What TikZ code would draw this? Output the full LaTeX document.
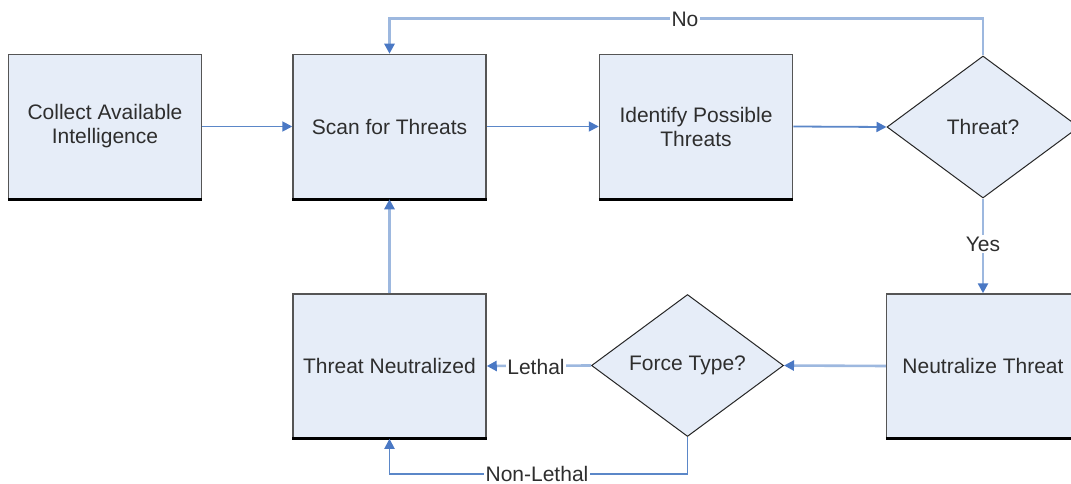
\documentclass[tikz,border=0pt]{standalone}
\usepackage{fontspec}
\setmainfont{Liberation Sans}
\usetikzlibrary{shapes.geometric,arrows.meta}
\definecolor{boxfill}{HTML}{E6EDF8}
\definecolor{boxedge}{HTML}{555555}
\definecolor{lineA}{HTML}{5B87C8}
\definecolor{lineB}{HTML}{9DB8DF}
\definecolor{tipc}{HTML}{4A78C4}
\definecolor{txt}{HTML}{2E2E2E}
\begin{document}
\begin{tikzpicture}[x=1pt,y=-1pt,
  every node/.style={font=\fontsize{21}{24}\selectfont, text=txt},
  box/.style={draw=boxedge, line width=1.5pt, fill=boxfill, rectangle, minimum width=193pt, minimum height=144pt, inner sep=0pt, align=center},
  dec/.style={draw=black!85, line width=1pt, fill=boxfill, diamond, minimum width=192pt, minimum height=142pt, inner sep=0pt},
  arr/.style={-{Triangle[length=10pt,width=10pt,color=tipc]}},
  darkline/.style={arr, draw=lineA, line width=1.8pt},
  lightline/.style={arr, draw=lineB, line width=2.6pt},
  lbl/.style={fill=white, inner sep=1.5pt},
  bottomedge/.style={draw=black, line width=3pt}
]
\clip (0,0) rectangle (1071,484);
\fill[white] (0,0) rectangle (1071,484);

\node[box] (col) at (105,126.5) {Collect Available\\Intelligence};
\node[box] (scan) at (389.5,126.5) {Scan for Threats};
\node[box] (ident) at (696,126.5) {Identify Possible\\Threats};
\node[dec] (thr) at (983,127) {Threat?};
\node[box] (neut) at (983,366) {Neutralize Threat};
\node[dec] (force) at (687.5,365.5) {Force Type?};
\node[box] (tn) at (389.5,366) {Threat Neutralized};

\foreach \n in {col,scan,ident,neut,tn}
  \draw[bottomedge] (\n.south west) -- (\n.south east);

\draw[darkline] (col.east) -- (scan.west);
\draw[darkline] (scan.east) -- (ident.west);
\draw[darkline] (ident.east) -- (thr.west);
\draw[lightline] (thr.north) -- ++(0,-37) -| (scan.north);
\draw[lightline] (thr.south) -- (neut.north);
\draw[lightline] (neut.west) -- (force.east);
\draw[lightline] (force.west) -- (tn.east);
\draw[darkline] (force.south) -- ++(0,37) -| (tn.south);
\draw[lightline] (tn.north) -- (scan.south);

\node[lbl] (lno) at (685,19) {No};
\node[lbl] (lyes) at (983,244) {Yes};
\node[lbl] (lleth) at (536,367) {Lethal};
\node[lbl] (lnon) at (537,474) {Non-Lethal};
\end{tikzpicture}
\end{document}
